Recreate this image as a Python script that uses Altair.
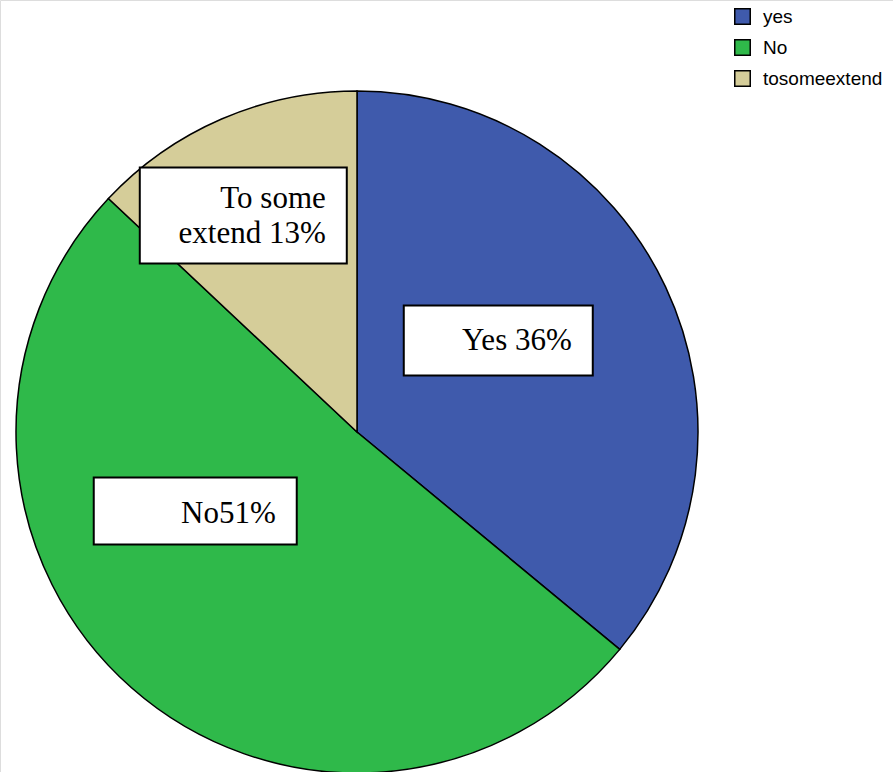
import altair as alt
import pandas as pd

categories = ["yes", "No", "tosomeextend"]
percents = [36, 51, 13]
colors = ["#3F5AAC", "#2FB94A", "#D5CD99"]
label_texts = [["Yes 36%"], ["No51%"], ["To some", "extend 13%"]]

df = pd.DataFrame({"category": categories, "pct": percents,
                   "order": list(range(len(categories)))})

W, H = 893, 772
CX, CY, R = 357, 432, 341

color_scale = alt.Scale(domain=categories, range=colors)

base = alt.Chart(df)

pie = base.mark_arc(outerRadius=R, stroke="black", strokeWidth=1.5).encode(
    theta=alt.Theta("pct:Q", stack=True),
    order=alt.Order("order:Q"),
    color=alt.Color("category:N", scale=color_scale, sort=categories,
                    legend=alt.Legend(title=None, orient="none", legendX=733, legendY=7,
                                      symbolType="square", symbolSize=240,
                                      symbolStrokeColor="black", symbolStrokeWidth=1.5,
                                      labelFont="Liberation Sans", labelFontSize=19,
                                      labelColor="black", labelOffset=11,
                                      rowPadding=8)),
    x=alt.value(CX), y=alt.value(CY),
)

xs = alt.Scale(domain=[-1, 1], range=[CX - R, CX + R])
ys = alt.Scale(domain=[-1, 1], range=[CY + R, CY - R])

# anchor of each label: middle of its slice at half radius
anchors = base.transform_window(
    cum="sum(pct)", sort=[alt.SortField("order")], frame=[None, 0]
).transform_joinaggregate(total="sum(pct)").transform_calculate(
    mid="2*PI*(datum.cum - datum.pct/2)/datum.total",
    ax="0.5*sin(datum.mid)",
    ay="0.5*cos(datum.mid)",
)

# per label: (box centre offset dx, dy), box size (w, h), text baseline offsets
label_style = {
    "yes": dict(dx=-13, dy=-19, w=189, h=70, lines=[10]),
    "No": dict(dx=-49, dy=-49, w=203, h=67, lines=[12]),
    "tosomeextend": dict(dx=-46, dy=-60, w=207, h=96, lines=[-8, 27]),
}

layers = [pie]
for cat, txt in zip(categories, label_texts):
    s = label_style[cat]
    sel = anchors.transform_filter(alt.datum.category == cat)
    box = sel.mark_rect(fill="white", stroke="black", strokeWidth=2,
                        xOffset=s["dx"] - s["w"] / 2, x2Offset=s["dx"] + s["w"] / 2,
                        yOffset=s["dy"] - s["h"] / 2, y2Offset=s["dy"] + s["h"] / 2).encode(
        x=alt.X("ax:Q", scale=xs, axis=None),
        x2="ax:Q",
        y=alt.Y("ay:Q", scale=ys, axis=None),
        y2="ay:Q",
    )
    layers.append(box)
    for line, off in zip(txt, s["lines"]):
        t = sel.mark_text(font="Liberation Serif", fontSize=31, color="black",
                          align="right", baseline="alphabetic",
                          dx=s["dx"] + s["w"] / 2 - 21, dy=s["dy"] + off).encode(
            x=alt.X("ax:Q", scale=xs, axis=None),
            y=alt.Y("ay:Q", scale=ys, axis=None),
            text=alt.value(line),
        )
        layers.append(t)

chart = alt.layer(*layers).properties(
    width=W, height=H, padding=0,
    autosize=alt.AutoSizeParams(type="none"),
).configure_view(stroke=None).configure(background="white")

chart.save("out.html", embed_options={"renderer": "svg", "actions": False})
